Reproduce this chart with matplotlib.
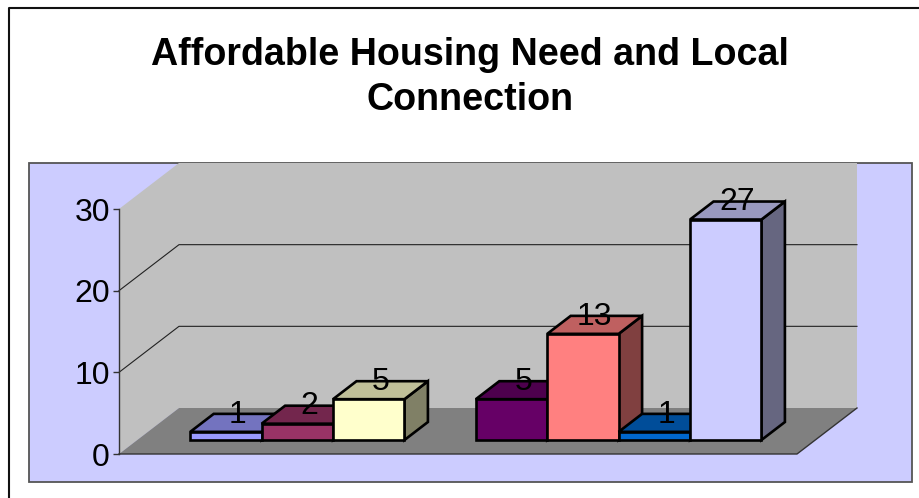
import matplotlib
matplotlib.use('Agg')

import matplotlib.pyplot as plt
from matplotlib.lines import Line2D
from matplotlib.patches import Polygon, Rectangle

plt.rcParams['font.family'] = ['Liberation Sans', 'DejaVu Sans']

TITLE = "Affordable Housing Need and Local\nConnection"

# None leaves an empty slot between the two groups
valores = [1, 2, 5, None, 5, 13, 1, 27]
cores = ['#9999FF', '#993366', '#FFFFCC', None, '#660066', '#FF8080', '#0066CC', '#CCCCFF']
yticks = [0, 10, 20, 30]

W, H = 919, 498

# depth of the box in axis units (one slot wide, y in value units)
DX = 60 / 71.4
DY = 46 / (245 / 30)
BAR_INI = 0.304
BAR_FIM = 0.695


def proj(x, y, d=0.0):
    """Oblique projection: d goes from 0 (front plane) to 1 (back wall)."""
    return (x + d * DX, y + d * DY)


def escurecer(cor, f):
    c = matplotlib.colors.to_rgb(cor)
    return tuple(v * f for v in c)


fig = plt.figure(figsize=(W / 100, H / 100), dpi=100, facecolor='white')

# chart frame (only the top and left edges fall inside the image) and plot area
fig.add_artist(Line2D([8.5 / W, 8.5 / W, 1], [0, 1 - 8.5 / H, 1 - 8.5 / H], transform=fig.transFigure,
                      color='#111111', lw=1.5, zorder=-2))
fig.add_artist(Rectangle((29 / W, 1 - 482 / H), 882.5 / W, 319 / H, transform=fig.transFigure,
                         fc='#CCCCFF', ec='#555555', lw=1.3, zorder=-1))

fig.text(470 / W, 1 - 77.5 / H, TITLE, ha='center', va='center', fontsize=27.1,
         fontweight='bold', linespacing=1.34)

# front plane of the box
ax = fig.add_axes([119 / W, 1 - 454 / H, 678 / W, 245 / H], zorder=2)
ax.patch.set_visible(False)
xmin, xmax = -53 / 71.4, 625 / 71.4
ax.set_xlim(xmin, xmax)
ax.set_ylim(0, 30)

for s in ['top', 'right', 'bottom']:
    ax.spines[s].set_visible(False)
ax.spines['left'].set_color('#333333')
ax.spines['left'].set_linewidth(1)
ax.set_xticks([])
ax.set_yticks(yticks)
ax.tick_params(axis='y', length=4, width=1, color='#333333', pad=2.5, labelsize=23)

# walls and floor
parede = [proj(xmin, 0), proj(xmin, 30), proj(xmin, 30, 1), proj(xmax, 30, 1),
          proj(xmax, 0, 1), proj(xmin, 0, 1)]
ax.add_patch(Polygon(parede, closed=True, fc='#C0C0C0', ec='none', clip_on=False, zorder=1))
piso = [proj(xmin, 0), proj(xmax, 0), proj(xmax, 0, 1), proj(xmin, 0, 1)]
ax.add_patch(Polygon(piso, closed=True, fc='#808080', ec='none', clip_on=False, zorder=1.1))
borda = [proj(xmin, 0), proj(xmax, 0), proj(xmax, 0, 1)]
ax.plot(*zip(*borda), color='#333333', lw=1, clip_on=False, zorder=1.2)

for v in yticks[1:-1]:
    linha = [proj(xmin, v), proj(xmin, v, 1), proj(xmax, v, 1)]
    ax.plot(*zip(*linha), color='#222222', lw=0.8, clip_on=False, zorder=1.2)

# bars, left to right so each one covers the side of the previous
for i, (v, cor) in enumerate(zip(valores, cores)):
    if v is None:
        continue
    z = 2 + i * 0.1
    x0, x1 = i, i + 1
    frente = [proj(x0, 0, BAR_INI), proj(x1, 0, BAR_INI), proj(x1, v, BAR_INI), proj(x0, v, BAR_INI)]
    topo = [proj(x0, v, BAR_INI), proj(x1, v, BAR_INI), proj(x1, v, BAR_FIM), proj(x0, v, BAR_FIM)]
    lado = [proj(x1, 0, BAR_INI), proj(x1, 0, BAR_FIM), proj(x1, v, BAR_FIM), proj(x1, v, BAR_INI)]
    estilo = dict(closed=True, ec='black', lw=1.9, joinstyle='miter', clip_on=False, zorder=z)
    ax.add_patch(Polygon(lado, fc=escurecer(cor, 0.5), **estilo))
    ax.add_patch(Polygon(topo, fc=escurecer(cor, 0.75), **estilo))
    ax.add_patch(Polygon(frente, fc=cor, **estilo))

# value labels stay above all the bars
for i, v in enumerate(valores):
    if v is None:
        continue
    ax.annotate(str(v), xy=proj(i + 0.5, v, (BAR_INI + BAR_FIM) / 2), xytext=(0, 6),
                textcoords='offset points', ha='center', va='center',
                fontsize=23, color='black', zorder=5, annotation_clip=False)

fig.savefig('out.png', dpi=100)
